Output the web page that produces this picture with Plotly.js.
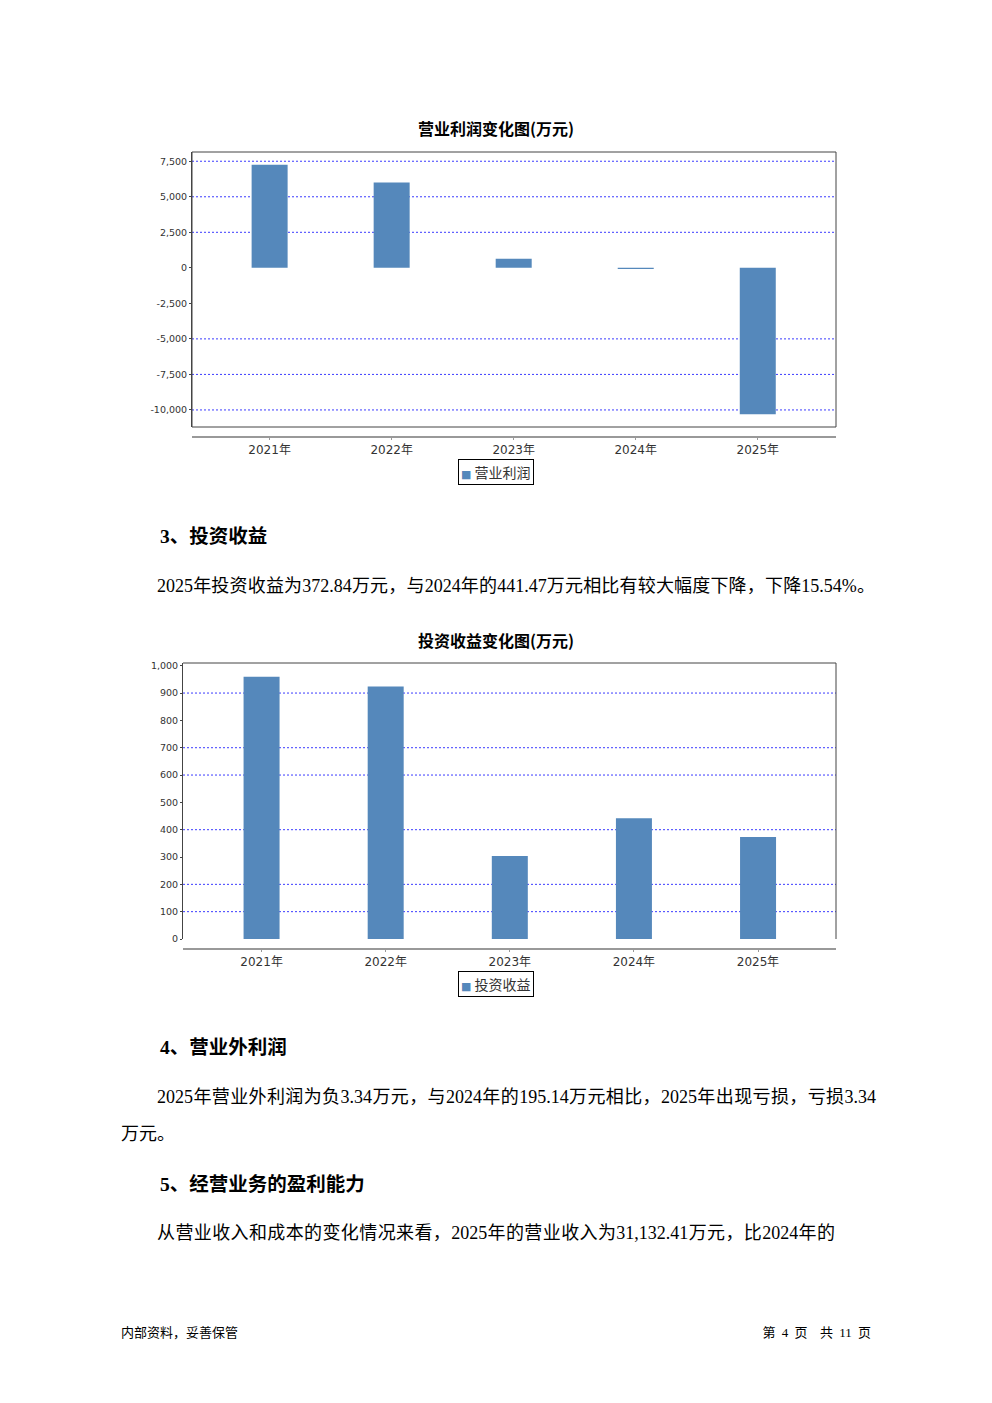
<!DOCTYPE html>
<html lang="zh-CN">
<head>
<meta charset="utf-8">
<script src="https://cdn.plot.ly/plotly-3.0.1.min.js"></script>
<style>
  html, body { margin: 0; padding: 0; background: #fff; }
  #page { position: relative; width: 992px; height: 1403px; overflow: hidden; background: #fff; }
  .chart { position: absolute; left: 0; width: 992px; height: 400px; }
  .txt { position: absolute; white-space: nowrap; color: #000;
         font-family: "Liberation Serif", "Noto Sans CJK SC", serif; font-size: 18px; line-height: 24px; height: 24px; }
  .h { font-family: "Liberation Serif", "Noto Sans CJK SC", serif; font-weight: 700; font-size: 19.5px; }
  .just { text-align: justify; text-align-last: justify; }
  .foot { position: absolute; white-space: nowrap; color: #000;
          font-family: "Liberation Serif", "Noto Sans CJK SC", sans-serif; font-size: 13px; line-height: 18px; }
</style>
</head>
<body>
<div id="page">
  <div id="chart1" class="chart" style="top:100px"></div>
  <div class="txt h" style="left:160px; top:525px;">3、投资收益</div>
  <div class="txt just" style="left:157px; top:574px; width:718px;">2025年投资收益为372.84万元，与2024年的441.47万元相比有较大幅度下降，下降15.54%。</div>
  <div id="chart2" class="chart" style="top:610px"></div>
  <div class="txt h" style="left:160px; top:1036px;">4、营业外利润</div>
  <div class="txt just" style="left:157px; top:1085px; width:719px;">2025年营业外利润为负3.34万元，与2024年的195.14万元相比，2025年出现亏损，亏损3.34</div>
  <div class="txt" style="left:121px; top:1122px;">万元。</div>
  <div class="txt h" style="left:160px; top:1173px;">5、经营业务的盈利能力</div>
  <div class="txt just" style="left:157px; top:1221px; width:678px;">从营业收入和成本的变化情况来看，2025年的营业收入为31,132.41万元，比2024年的</div>
  <div class="foot" style="left:121px; top:1324px;">内部资料，妥善保管</div>
  <div class="foot" style="right:121px; top:1324px; word-spacing:3px;">第 4 页&nbsp;&nbsp;共 11 页</div>
</div>
<script>
// ---- data ----
const years = ['2021年', '2022年', '2023年', '2024年', '2025年'];

const opProfitName = '营业利润';
const opProfit = [7250, 6000, 630, -90, -10300];
const opTickVals = [7500, 5000, 2500, 0, -2500, -5000, -7500, -10000];
const opTickText = ['7,500', '5,000', '2,500', '0', '-2,500', '-5,000', '-7,500', '-10,000'];
const opGridVals = [7500, 5000, 2500, -5000, -7500, -10000];

const invName = '投资收益';
const invIncome = [960, 924, 304, 441.47, 372.84];
const invTickVals = [1000, 900, 800, 700, 600, 500, 400, 300, 200, 100, 0];
const invTickText = ['1,000', '900', '800', '700', '600', '500', '400', '300', '200', '100', '0'];
const invGridVals = [900, 700, 600, 400, 200, 100];

// ---- style ----
const BAR = '#5588bb';
const FRAME = '#444444';
const GRID = '#3b3bff';

function makeChart(el, o) {
  const trace = {
    type: 'bar', x: years, y: o.values, name: o.name,
    width: o.barWidth, marker: { color: BAR, line: { width: 0 } },
    hoverinfo: 'skip', showlegend: false
  };
  const shapes = o.grid.map(v => ({
    type: 'line', xref: 'paper', yref: 'y', x0: 0, x1: 1, y0: v, y1: v,
    line: { color: GRID, width: 1, dash: '2px,2px' }, layer: 'below'
  }));
  if (o.fullFrame) {
    shapes.push({ type: 'rect', xref: 'paper', yref: 'paper', x0: 0, x1: 1, y0: o.d0, y1: 1,
      line: { color: FRAME, width: 1 }, fillcolor: 'rgba(0,0,0,0)', layer: 'above' });
  } else {
    shapes.push({ type: 'line', xref: 'paper', yref: 'paper', x0: 0, x1: 1, y0: 1, y1: 1,
      line: { color: FRAME, width: 1 }, layer: 'above' });
    shapes.push({ type: 'line', xref: 'paper', yref: 'paper', x0: 1, x1: 1, y0: o.d0, y1: 1,
      line: { color: FRAME, width: 1 }, layer: 'above' });
  }
  const layout = {
    width: 992, height: 400,
    margin: { l: o.l, r: o.r, t: o.t, b: o.b, pad: 0 },
    paper_bgcolor: '#fff', plot_bgcolor: 'rgba(0,0,0,0)',
    showlegend: false,
    title: {
      text: o.title, xref: 'container', x: 0.5, xanchor: 'center',
      yref: 'container', y: o.titleY, yanchor: 'middle',
      font: { family: 'Noto Sans CJK SC', size: 16, color: '#000', weight: 700 }
    },
    xaxis: {
      type: 'category', range: o.xr, anchor: 'free', position: 0,
      showline: true, linecolor: '#999', linewidth: 1.5,
      ticks: 'outside', ticklen: 2, tickcolor: '#999', ticklabelstandoff: 0,
      tickfont: { family: 'DejaVu Sans', size: 12, color: '#333' },
      showgrid: false, zeroline: false, fixedrange: true
    },
    yaxis: {
      domain: [o.d0, 1], range: o.yr,
      tickmode: 'array', tickvals: o.tickVals, ticktext: o.tickText,
      ticks: 'outside', ticklen: 2, tickcolor: FRAME,
      showline: true, linecolor: FRAME, linewidth: 1,
      tickfont: { family: 'DejaVu Sans', size: 9.5, color: '#333' },
      showgrid: false, zeroline: false, fixedrange: true
    },
    shapes: shapes,
    annotations: [{
      xref: 'paper', yref: 'paper', x: o.legX, y: o.legY, xanchor: 'center', yanchor: 'middle',
      showarrow: false,
      text: '<span style="color:' + BAR + ';font-family:DejaVu Sans;font-size:11px">■</span> ' + o.name,
      font: { family: 'Noto Sans CJK SC', size: 14, color: '#333' },
      bordercolor: '#000', borderwidth: 1, borderpad: 2, bgcolor: '#fff'
    }]
  };
  Plotly.newPlot(el, [trace], layout, { staticPlot: true, displayModeBar: false });
}

makeChart('chart1', {
  values: opProfit, name: opProfitName, title: '营业利润变化图(万元)',
  tickVals: opTickVals, tickText: opTickText, grid: opGridVals,
  l: 192, r: 156, t: 52, b: 64, d0: 9 / 284, titleY: 1 - 29 / 400,
  xr: [-0.636, 4.641], yr: [-11200, 8150], barWidth: 0.295,
  legX: (496 - 192) / 644, legY: (436 - 472) / 284, fullFrame: true
});

makeChart('chart2', {
  values: invIncome, name: invName, title: '投资收益变化图(万元)',
  tickVals: invTickVals, tickText: invTickText, grid: invGridVals,
  l: 183, r: 156, t: 53, b: 62, d0: 9 / 285, titleY: 1 - 31 / 400,
  xr: [-0.633, 4.628], yr: [0, 1010], barWidth: 0.29,
  legX: (496 - 183) / 653, legY: (948 - 984) / 285, fullFrame: false
});
</script>
</body>
</html>
